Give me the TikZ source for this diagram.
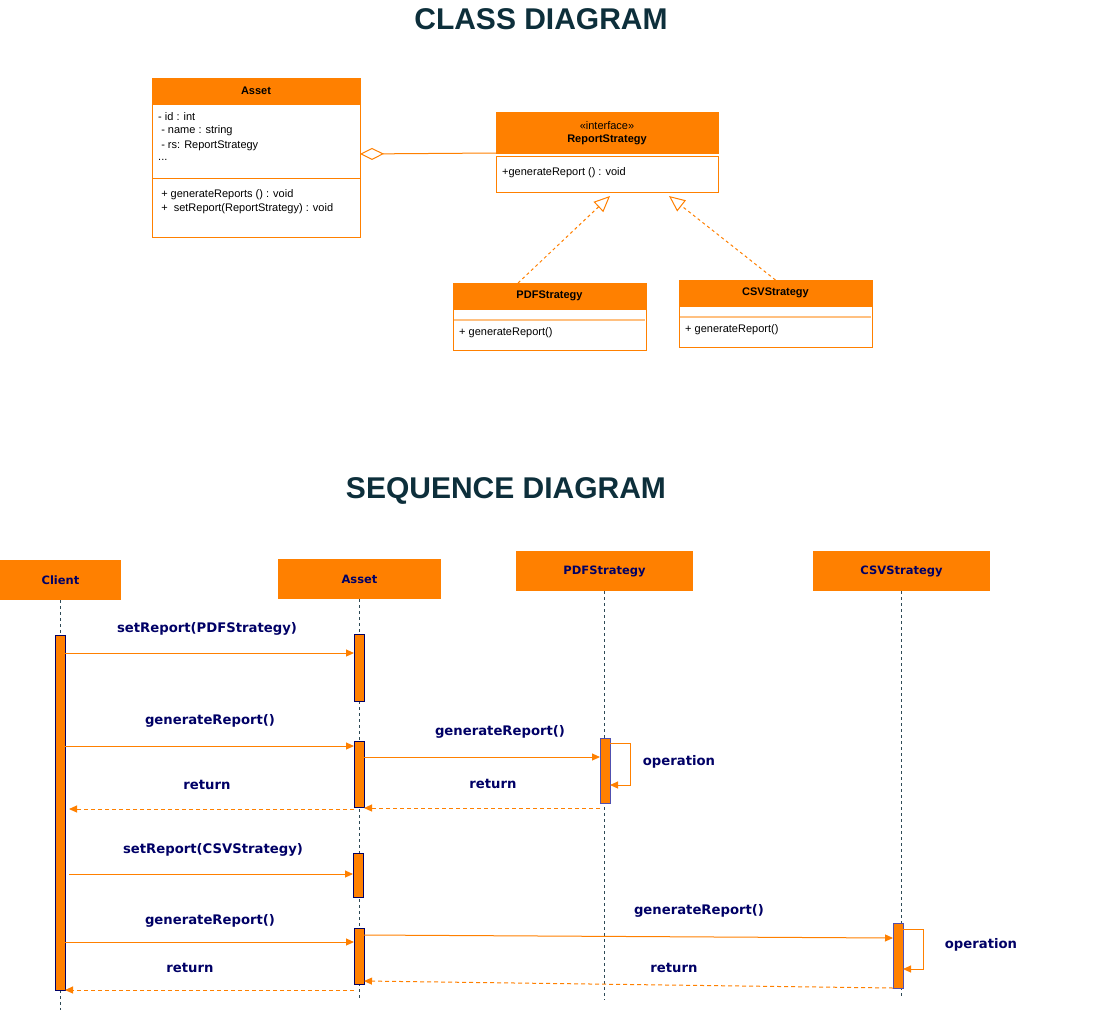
\documentclass[tikz,border=0pt]{standalone}
\usepackage{fontspec}
\setmainfont{Liberation Sans}
\newfontfamily\seqfont{DejaVu Sans}
\usetikzlibrary{arrows.meta}
\definecolor{dorange}{HTML}{FF8000}
\definecolor{lorange}{HTML}{FFC080}
\definecolor{navy}{HTML}{000066}
\definecolor{ttl}{HTML}{0D2F3B}
\definecolor{life}{HTML}{2E4A56}
\definecolor{actpur}{HTML}{5050B0}
\begin{document}
\begin{tikzpicture}[x=1pt,y=-1pt,
  box/.style={draw=dorange, line width=1pt, inner sep=0pt, outer sep=0pt, anchor=north west},
  hdr/.style={box, fill=dorange, font=\fontsize{11}{13}\selectfont\bfseries},
  ctext/.style={anchor=west, inner sep=0pt, font=\fontsize{11}{13}\selectfont},
  ttlstyle/.style={font=\fontsize{30}{34}\selectfont\bfseries, text=ttl, inner sep=0pt, anchor=base},
  lifehead/.style={fill=dorange, inner sep=0pt, outer sep=0pt, anchor=north west, font=\seqfont\fontsize{11.5}{13}\selectfont\bfseries, text=navy},
  act/.style={draw=navy, fill=dorange, line width=1pt, inner sep=0pt, outer sep=0pt, minimum width=10pt, anchor=north west},
  msg/.style={draw=dorange, line width=1pt, -{Triangle[length=8pt,width=7pt]}},
  ret/.style={msg, dash pattern=on 4pt off 3pt},
  mlabel/.style={font=\seqfont\fontsize{13.2}{15}\selectfont\bfseries, text=navy, inner sep=0pt},
  lifeline/.style={draw=life, line width=1pt, dash pattern=on 3pt off 3pt},
  real/.style={draw=dorange, line width=1pt, dash pattern=on 3pt off 3pt, -{Triangle[open,length=16pt,width=14pt]}}
]
\useasboundingbox (0,0) rectangle (1094,1012);
\fill[white] (0,0) rectangle (1094,1012);

% titles
\node[ttlstyle] (t1) at (541,29) {CLASS DIAGRAM};
\node[ttlstyle] (t2) at (506,498) {SEQUENCE DIAGRAM};

% ---------- Class diagram ----------
% Asset
\node[hdr, minimum width=208pt, minimum height=26pt] (assethead) at (152,78) {Asset};
\node[box, minimum width=208pt, minimum height=133pt] (assetbody) at (152,104) {};
\draw[dorange, line width=1pt] (assetbody.west |- 0,178) -- (assetbody.east |- 0,178);
\node[ctext] (a1) at (158,117) {- id : int};
\node[ctext] (a2) at (158,131) {\ - name : string};
\node[ctext] (a3) at (158,146) {\ - rs: ReportStrategy};
\node[ctext] (a4) at (158,160) {...};
\node[ctext] (a5) at (158,195) {\ + generateReports () : void};
\node[ctext] (a6) at (158,209) {\ +\ \ setReport(ReportStrategy) : void};

% ReportStrategy
\node[box, fill=dorange, minimum width=222pt, minimum height=41pt] (rshead) at (496,112) {};
\node[box, minimum width=222pt, minimum height=36pt] (rsbody) at (496,156) {};
\draw[white, line width=2pt] (497,154.5) -- (717,154.5);
\node[inner sep=0pt, font=\fontsize{11}{13}\selectfont] (rsst) at (607,126) {«interface»};
\node[inner sep=0pt, font=\fontsize{11}{13}\selectfont\bfseries] (rsname) at (607,140) {ReportStrategy};
\node[ctext] (rsm) at (502,173) {+generateReport () : void};

% PDFStrategy
\node[hdr, minimum width=193pt, minimum height=26pt] (pdfhead) at (453,283) {PDFStrategy};
\node[box, minimum width=193pt, minimum height=41pt] (pdfbody) at (453,309) {};
\draw[lorange, line width=2pt] (454,320) -- (645,320);
\node[ctext] (pdfm) at (459,333) {+ generateReport()};

% CSVStrategy
\node[hdr, minimum width=193pt, minimum height=26pt] (csvhead) at (679,280) {CSVStrategy};
\node[box, minimum width=193pt, minimum height=41pt] (csvbody) at (679,306) {};
\draw[lorange, line width=2pt] (680,317) -- (871,317);
\node[ctext] (csvm) at (685,330) {+ generateReport()};

% aggregation
\draw[draw=dorange, line width=1pt, -{Diamond[open,length=24pt,width=12pt]}] (rshead.south west) -- ([yshift=16.5pt]assetbody.east);
% realizations
\draw[real] ([xshift=-31.5pt]pdfhead.north) -- ([xshift=3pt,yshift=-4pt]rsbody.south);
\draw[real] (csvhead.north) -- ([xshift=62pt,yshift=-4pt]rsbody.south);

% ---------- Sequence diagram ----------
\node[lifehead, minimum width=121pt, minimum height=40pt] (clientH) at (0,560) {Client};
\node[lifehead, minimum width=163pt, minimum height=40pt] (assetH) at (278,559) {Asset};
\node[lifehead, minimum width=177pt, minimum height=40pt] (pdfH) at (516,551) {PDFStrategy};
\node[lifehead, minimum width=177pt, minimum height=40pt] (csvH) at (813,551) {CSVStrategy};

\coordinate (cEnd) at (0,1010);
\coordinate (oEnd) at (0,998);
\draw[lifeline] (clientH.south) -- (clientH.south |- cEnd);
\draw[lifeline] (assetH.south) -- (assetH.south |- oEnd);
\draw[lifeline] (pdfH.south) -- (pdfH.south |- 0,1000);
\draw[lifeline] (csvH.south) -- (csvH.south |- oEnd);

% activations
\node[act, minimum height=355pt] (cAct) at (55,635) {};
\node[act, minimum height=67pt] (aAct1) at (354,634) {};
\node[act, minimum height=66pt] (aAct2) at (354,741) {};
\node[act, draw=actpur, minimum height=65pt] (pAct) at (600,738) {};
\node[act, minimum height=44pt] (aAct3) at (353,853) {};
\node[act, minimum height=56pt] (aAct4) at (354,928) {};
\node[act, draw=actpur, minimum height=65pt] (sAct) at (893,923) {};

% message levels
\coordinate (m1) at (0,653);
\coordinate (m2) at (0,746);
\coordinate (m3) at (0,757);
\coordinate (s1a) at (0,743);
\coordinate (s1b) at (0,785);
\coordinate (r1) at (0,808);
\coordinate (r2) at (0,809);
\coordinate (m4) at (0,874);
\coordinate (m5) at (0,942);
\coordinate (m6a) at (0,935);
\coordinate (m6b) at (0,938);
\coordinate (s2a) at (0,929);
\coordinate (s2b) at (0,969);
\coordinate (r3a) at (0,988);
\coordinate (r3b) at (0,981);
\coordinate (r4) at (0,990);

\draw[msg] (cAct.east |- m1) -- (aAct1.west |- m1);
\draw[msg] (cAct.east |- m2) -- (aAct2.west |- m2);
\draw[msg] (aAct2.east |- m3) -- (pAct.west |- m3);
\draw[msg] (pAct.east |- s1a) -- ++(20,0) |- (pAct.east |- s1b);
\draw[ret] (pAct.west |- r1) -- (aAct2.east |- r1);
\draw[ret] (aAct2.west |- r2) -- ([xshift=4pt]cAct.east |- r2);
\draw[msg] ([xshift=4pt]cAct.east |- m4) -- (aAct3.west |- m4);
\draw[msg] (cAct.east |- m5) -- (aAct4.west |- m5);
\draw[msg] (aAct4.east |- m6a) -- (sAct.west |- m6b);
\draw[msg] (sAct.east |- s2a) -- ++(20,0) |- (sAct.east |- s2b);
\draw[ret] (sAct.west |- r3a) -- (aAct4.east |- r3b);
\draw[ret] (aAct4.west |- r4) -- (cAct.east |- r4);

% labels
\node[mlabel] (l1) at (207,629) {setReport(PDFStrategy)};
\node[mlabel] (l2) at (210,721) {generateReport()};
\node[mlabel] (l3) at (500,732) {generateReport()};
\node[mlabel] (l4) at (679,762) {operation};
\node[mlabel] (l5) at (493,784) {return};
\node[mlabel] (l6) at (207,785) {return};
\node[mlabel] (l7) at (213,850) {setReport(CSVStrategy)};
\node[mlabel] (l8) at (210,921) {generateReport()};
\node[mlabel] (l9) at (699,911) {generateReport()};
\node[mlabel] (l10) at (981,945) {operation};
\node[mlabel] (l11) at (674,968) {return};
\node[mlabel] (l12) at (190,968) {return};
\end{tikzpicture}
\end{document}
